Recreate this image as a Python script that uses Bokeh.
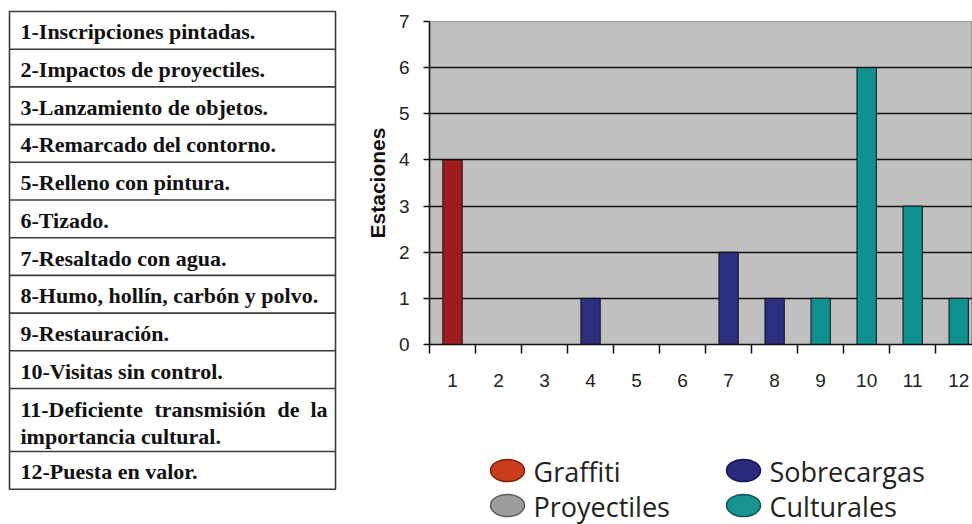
from bokeh.plotting import figure
from bokeh.layouts import row, column
from bokeh.models import Range1d, FixedTicker, Label
from bokeh.core.properties import value
from bokeh.embed import file_html
from bokeh.resources import INLINE

# ---------------- data ----------------
categories = [1, 2, 3, 4, 5, 6, 7, 8, 9, 10, 11, 12]
graffiti = [4, 0, 0, 0, 0, 0, 0, 0, 0, 0, 0, 0]
proyectiles = [0, 0, 0, 0, 0, 0, 0, 0, 0, 0, 0, 0]
sobrecargas = [0, 0, 0, 1, 0, 0, 2, 1, 0, 0, 0, 0]
culturales = [0, 0, 0, 0, 0, 0, 0, 0, 1, 6, 3, 1]
y_ticks = [0, 1, 2, 3, 4, 5, 6, 7]
series_names = ["Graffiti", "Proyectiles", "Sobrecargas", "Culturales"]
amenazas = [
    "1-Inscripciones pintadas.",
    "2-Impactos de proyectiles.",
    "3-Lanzamiento de objetos.",
    "4-Remarcado del contorno.",
    "5-Relleno con pintura.",
    "6-Tizado.",
    "7-Resaltado con agua.",
    "8-Humo, hollín, carbón y polvo.",
    "9-Restauración.",
    "10-Visitas sin control.",
    "11-Deficiente transmisión de la importancia cultural.",
    "12-Puesta en valor.",
]
x_title = "Amenazas"
y_title = "Estaciones"

bar_colors = ["#a01c1c", "#9c9c9c", "#2c2e7e", "#119090"]
leg_fill = ["#c93c1c", "#9c9c9c", "#2a2a7c", "#1a9292"]
leg_line = ["#7a2410", "#5e5e5e", "#181848", "#0c5656"]

# ---------------- table (left) ----------------
tbl = figure(width=348, height=524, x_range=Range1d(0, 348), y_range=Range1d(524, 0),
             x_axis_type=None, y_axis_type=None, output_backend="svg",
             toolbar_location=None, min_border=0)
tbl.grid.visible = False
tbl.outline_line_color = None

row_h = [37.7] * 10 + [63.0] + [37.7]
bounds = [11.0]
for h in row_h:
    bounds.append(bounds[-1] + h)
tab_left, tab_right = 9, 335
line_col = "#3c3c3c"
tbl.quad(left=[tab_left], right=[tab_right], top=[bounds[0]], bottom=[bounds[-1]],
         fill_color=None, line_color=line_col, line_width=1.6)
tbl.segment(x0=[tab_left] * (len(bounds) - 2), x1=[tab_right] * (len(bounds) - 2),
            y0=bounds[1:-1], y1=bounds[1:-1], line_color=line_col, line_width=1.6)

serif = dict(text_font=value("Liberation Serif"), text_font_style="bold",
             text_font_size="22px", text_baseline="middle", text_color="#111111")
tx, ty, tt = [], [], []
for i, label in enumerate(amenazas):
    if i == 10:
        continue
    c = (bounds[i] + bounds[i + 1]) / 2
    tx.append(20); ty.append(c + 1.5); tt.append(label)
# row 11: justified first line + second line
c11 = (bounds[10] + bounds[11]) / 2
words = amenazas[10].split(" ")
line1 = words[:4]
line2 = " ".join(words[4:])
tbl.text(x=[20, 154, 277], y=[c11 - 11] * 3, text=line1[:3], text_align="left", **serif)
tbl.text(x=[327], y=[c11 - 11], text=[line1[3]], text_align="right", **serif)
tx.append(20); ty.append(c11 + 16); tt.append(line2)
tbl.text(x=tx, y=ty, text=tt, text_align="left", **serif)

# ---------------- bar chart ----------------
p = figure(width=624, height=432, x_range=Range1d(0.5, 12.30), y_range=Range1d(0, 7),
           output_backend="svg", toolbar_location=None,
           min_border_left=81, min_border_right=0, min_border_top=21, min_border_bottom=88)
p.background_fill_color = "#c0c0c0"
p.border_fill_color = "white"
p.outline_line_color = "#9a9a9a"
p.outline_line_width = 1

for vals, col in zip([graffiti, proyectiles, sobrecargas, culturales], bar_colors):
    xs = [c for c, v in zip(categories, vals) if v > 0]
    ys = [v for v in vals if v > 0]
    if xs:
        p.vbar(x=xs, top=ys, bottom=0, width=0.42, fill_color=col,
               line_color="#111111", line_width=1)

p.xgrid.visible = False
p.ygrid.ticker = FixedTicker(ticks=y_ticks[1:-1])
p.ygrid.grid_line_color = "#111111"
p.ygrid.grid_line_width = 1.6

xa = p.xaxis[0]
xa.ticker = FixedTicker(ticks=categories,
                        minor_ticks=[c - 0.5 for c in categories] + [categories[-1] + 0.5])
xa.major_tick_line_color = None
xa.minor_tick_in = 0
xa.minor_tick_out = 9
xa.minor_tick_line_color = "#111111"
xa.minor_tick_line_width = 1.5
xa.major_label_standoff = 20
ya = p.yaxis[0]
ya.ticker = FixedTicker(ticks=y_ticks)
ya.minor_tick_line_color = None
ya.major_tick_in = 0
ya.major_tick_out = 6
ya.major_tick_line_width = 1.5
ya.major_tick_line_color = "#111111"
ya.major_label_standoff = 14
ya.axis_label = y_title
ya.axis_label_standoff = 7
ya.axis_label_text_font = "Liberation Sans"
ya.axis_label_text_font_style = "bold"
ya.axis_label_text_font_size = "21px"
ya.axis_label_text_color = "#111111"
for ax in (xa, ya):
    ax.axis_line_color = "#111111"
    ax.axis_line_width = 1.6
    ax.major_label_text_font = "Liberation Sans"
    ax.major_label_text_font_size = "19px"
    ax.major_label_text_color = "#222222"

p.add_layout(Label(x=5.89, y=-1.56, text=x_title, text_align="center", text_baseline="middle",
                   text_font="Liberation Sans", text_font_style="bold", text_font_size="21px",
                   text_color="#111111"))

# ---------------- legend ----------------
# the column aligns this frame with the chart frame (left edge at x = 429)
leg = figure(width=624, height=92, x_range=Range1d(429, 972), y_range=Range1d(524, 432),
             x_axis_type=None, y_axis_type=None, output_backend="svg",
             toolbar_location=None, min_border=0, min_border_left=81)
leg.grid.visible = False
leg.outline_line_color = None
lx = [507, 507, 743, 743]
ly = [470, 505, 470, 505]
leg.ellipse(x=lx, y=ly, width=34, height=22, fill_color=leg_fill, line_color=leg_line,
            line_width=1.5)
leg.text(x=[v + 26 for v in lx], y=[v + 1 for v in ly], text=series_names,
         text_font=value("Open Sans"), text_font_size="27px", text_baseline="middle",
         text_align="left", text_color="#222222")

layout = row(tbl, column(p, leg))
open("out.html", "w").write(file_html(layout, INLINE))
